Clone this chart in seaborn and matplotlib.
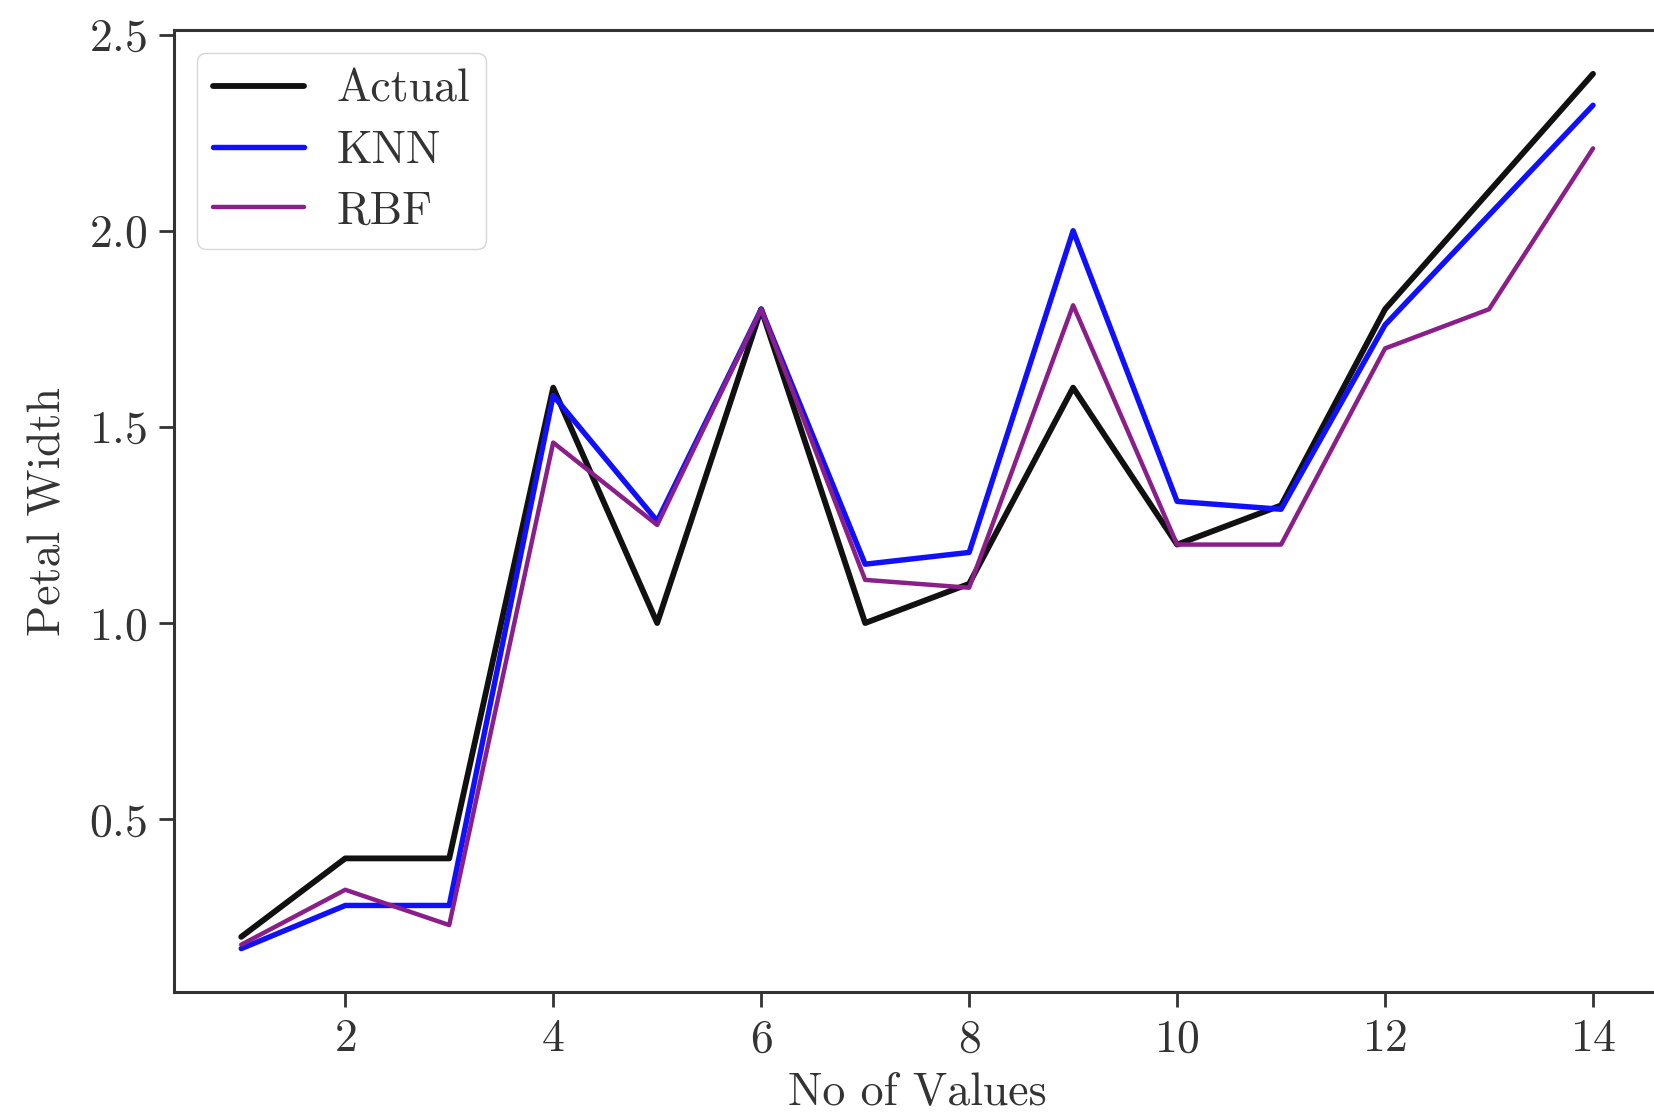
import matplotlib
matplotlib.use("Agg")
import matplotlib.pyplot as plt
import seaborn as sns
import pandas as pd

# valores
n_valores = list(range(1, 15))
actual = [0.2, 0.4, 0.4, 1.6, 1.0, 1.8, 1.0, 1.1, 1.6, 1.2, 1.3, 1.8, 2.1, 2.4]
knn = [0.17, 0.28, 0.28, 1.58, 1.26, 1.80, 1.15, 1.18, 2.00, 1.31, 1.29, 1.76, 2.04, 2.32]
rbf = [0.18, 0.32, 0.23, 1.46, 1.25, 1.80, 1.11, 1.09, 1.81, 1.20, 1.20, 1.70, 1.80, 2.21]

sns.set_style("ticks")
plt.rcParams["font.family"] = ["cmr10", "DejaVu Serif"]
plt.rcParams["axes.formatter.use_mathtext"] = True
plt.rcParams["font.size"] = 33

df = pd.DataFrame({"x": n_valores, "Actual": actual, "KNN": knn, "RBF": rbf})

fig = plt.figure(figsize=(16.54, 11.15), dpi=100)
ax = fig.add_axes([0.105, 0.11, 0.899, 0.863])

sns.lineplot(data=df, x="x", y="Actual", color="#111111", linewidth=4.2, label="Actual", ax=ax)
sns.lineplot(data=df, x="x", y="KNN", color="#1010ff", linewidth=3.9, label="KNN", ax=ax)
sns.lineplot(data=df, x="x", y="RBF", color="#8a1f8a", linewidth=3.2, label="RBF", ax=ax)

ax.set_xlabel("No of Values", fontsize=33, color="#333333", labelpad=8)
ax.set_ylabel("Petal Width", fontsize=33, color="#333333", labelpad=14)
ax.set_xticks([2, 4, 6, 8, 10, 12, 14])
ax.set_yticks([0.5, 1.0, 1.5, 2.0, 2.5])
ax.tick_params(labelsize=33, length=11, width=2, colors="#333333", pad=8)

for lado in ["left", "bottom", "top", "right"]:
    ax.spines[lado].set_linewidth(2.2)
    ax.spines[lado].set_color("#333333")

ax.legend(loc="upper left", fontsize=33, frameon=True, fancybox=True,
          edgecolor="#cccccc", handlelength=2.0, labelspacing=0.42,
          handletextpad=0.7, borderpad=0.35)
for txt in ax.get_legend().get_texts():
    txt.set_color("#333333")

fig.savefig("out.png", dpi=100)
